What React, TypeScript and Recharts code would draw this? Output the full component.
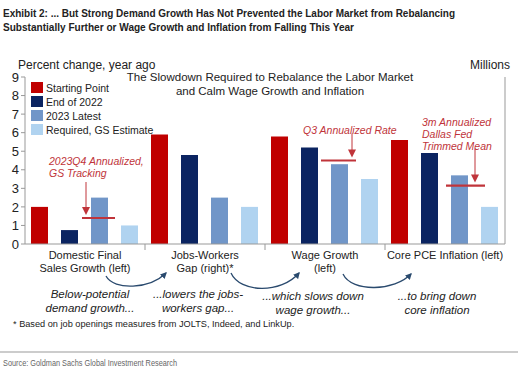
import React from 'react';
import { BarChart, Bar, XAxis, YAxis } from 'recharts';

// chart values
const categories = [
  ['Domestic Final', 'Sales Growth (left)'],
  ['Jobs-Workers', 'Gap (right)*'],
  ['Wage Growth', '(left)'],
  ['Core PCE Inflation (left)'],
];
const startingPoint = [2.0, 5.9, 5.8, 5.6];
const endOf2022 = [0.75, 4.8, 5.2, 4.9];
const latest2023 = [2.5, 2.5, 4.3, 3.7];
const requiredGs = [1.0, 2.0, 3.5, 2.0];
const markers = [1.4, null, 4.5, 3.15];
const markerNotes = [
  ['2023Q4 Annualized,', 'GS Tracking'],
  null,
  ['Q3 Annualized Rate'],
  ['3m Annualized', 'Dallas Fed', 'Trimmed Mean'],
];
const yTicks = [0, 1, 2, 3, 4, 5, 6, 7, 8, 9];

const SERIES = [
  { key: 'start', name: 'Starting Point', color: '#C00000' },
  { key: 'end22', name: 'End of 2022', color: '#0B2461' },
  { key: 'latest', name: '2023 Latest', color: '#7196C8' },
  { key: 'required', name: 'Required, GS Estimate', color: '#B0D3F0' },
];

// where each red note sits relative to its bar / marker
const NOTE_LAYOUT = [
  { tx: -42, ty: -53, ax: -5, aTop: -36, l: -9, r: 7 },
  null,
  { tx: -28, ty: -27, ax: 21, aTop: -27, l: -10, r: 8 },
  { tx: -29, ty: -60, ax: 24, aTop: -37, l: -5, r: 17 },
];

const data = categories.map((c, i) => ({
  name: c.join(' '),
  lines: c,
  start: startingPoint[i],
  end22: endOf2022[i],
  latest: latest2023[i],
  required: requiredGs[i],
  marker: markers[i],
  note: markerNotes[i],
  idx: i,
}));

const RED = '#C0343A';
const FONT = '"Liberation Sans", Arial, sans-serif';

const LatestShape = (props: any) => {
  const { x, y, width, height, fill, payload } = props;
  const base = y + height;
  const out: any[] = [<rect key="b" x={x} y={y} width={width} height={height} fill={fill} />];
  if (payload.marker != null && payload.latest) {
    const my = base - (base - y) * (payload.marker / payload.latest);
    const lay = NOTE_LAYOUT[payload.idx];
    out.push(
      <line key="m" x1={x + lay.l} x2={x + width + lay.r} y1={my} y2={my} stroke={RED} strokeWidth={2.2} />
    );
    out.push(
      <line key="a" x1={x + lay.ax} x2={x + lay.ax} y1={my + lay.aTop} y2={my - 9} stroke={RED} strokeWidth={1} />
    );
    out.push(
      <path key="h" d={`M${x + lay.ax - 4},${my - 11} L${x + lay.ax + 4},${my - 11} L${x + lay.ax},${my - 3} Z`} fill={RED} />
    );
    (payload.note || []).forEach((t: string, k: number) => {
      out.push(
        <text key={'t' + k} x={x + lay.tx} y={my + lay.ty + k * 12} fill={RED} fontSize={10.5} fontStyle="italic" fontFamily={FONT}>
          {t}
        </text>
      );
    });
  }
  return <g>{out}</g>;
};

const CategoryTick = (props: any) => {
  const { x, y, payload, index } = props;
  const half = payload.offset ?? 60;
  const row = data[index];
  return (
    <g>
      {index > 0 && <line x1={x - half} x2={x - half} y1={y} y2={y + 6} stroke="#999" />}
      {row.lines.map((t: string, k: number) => (
        <text key={k} x={x} y={y + 15 + k * 13} textAnchor="middle" fontSize={11} fill="#222" fontFamily={FONT}>
          {t}
        </text>
      ))}
    </g>
  );
};

const arrowPaths = [
  'M106,276 C114,291 150,289 166,273',
  'M231,273 C240,293 281,294 299,273',
  'M343,274 C352,293 395,291 411,274',
];
const flowNotes = [
  { x: 90, y: 298, lines: ['Below-potential', 'demand growth...'] },
  { x: 198, y: 298, lines: ['...lowers the jobs-', 'workers gap...'] },
  { x: 313, y: 300, lines: ['...which slows down', 'wage growth...'] },
  { x: 437, y: 300, lines: ['...to bring down', 'core inflation'] },
];
const NARROW = '"Liberation Sans", Arial, sans-serif';

export default function App() {
  return (
    <div style={{ position: 'fixed', left: 0, top: 0, width: 530, height: 376, background: '#fff', fontFamily: FONT, overflow: 'hidden' }}>
      <div style={{ position: 'absolute', left: 0, top: 0 }}>
        <BarChart
          width={530}
          height={376}
          data={data}
          margin={{ top: 77, right: 0, bottom: 92, left: 0 }}
          barCategoryGap={6}
          barGap={13}
        >
          <XAxis
            dataKey="name"
            height={40}
            axisLine={{ stroke: '#999' }}
            tickLine={false}
            tickSize={0}
            tickMargin={0}
            interval={0}
            tick={<CategoryTick />}
          />
          <YAxis
            yAxisId="left"
            width={25}
            domain={[0, 9]}
            ticks={yTicks}
            interval={0}
            axisLine={{ stroke: '#999' }}
            tickLine={{ stroke: '#999' }}
            tickSize={4}
            tick={{ fontSize: 13, fill: '#222', fontFamily: FONT }}
          />
          <YAxis
            yAxisId="right"
            orientation="right"
            width={25}
            domain={[0, 9]}
            ticks={yTicks}
            interval={0}
            axisLine={{ stroke: '#999' }}
            tickLine={{ stroke: '#999' }}
            tickSize={4}
            tick={{ fontSize: 13, fill: '#222', fontFamily: FONT }}
          />
          {SERIES.map((s) => (
            <Bar
              key={s.key}
              dataKey={s.key}
              name={s.name}
              yAxisId="left"
              fill={s.color}
              isAnimationActive={false}
              shape={s.key === 'latest' ? <LatestShape /> : undefined}
            />
          ))}
        </BarChart>
      </div>
      <svg width={530} height={376} style={{ position: 'absolute', left: 0, top: 0, pointerEvents: 'none' }}>
        <defs>
          <marker id="ah" viewBox="0 0 10 10" refX="8" refY="5" markerWidth="5" markerHeight="5" orient="auto">
            <path d="M0,0 L10,5 L0,10 Z" fill="#2A4A6E" />
          </marker>
        </defs>
        <text x={3} y={17} fontSize={11.5} fontWeight={700} fill="#222" fontFamily={NARROW} textLength={452} lengthAdjust="spacingAndGlyphs">
          Exhibit 2: ... But Strong Demand Growth Has Not Prevented the Labor Market from Rebalancing
        </text>
        <text x={3} y={31} fontSize={11.5} fontWeight={700} fill="#222" fontFamily={NARROW} textLength={351} lengthAdjust="spacingAndGlyphs">
          Substantially Further or Wage Growth and Inflation from Falling This Year
        </text>
        <text x={18} y={69} fontSize={12} fill="#222" fontFamily={FONT}>Percent change, year ago</text>
        <text x={510} y={69} fontSize={12} fill="#222" fontFamily={FONT} textAnchor="end">Millions</text>
        <text x={270} y={81} fontSize={11.5} fill="#222" fontFamily={FONT} textAnchor="middle">
          The Slowdown Required to Rebalance the Labor Market
        </text>
        <text x={270} y={95} fontSize={11.5} fill="#222" fontFamily={FONT} textAnchor="middle">
          and Calm Wage Growth and Inflation
        </text>
        {SERIES.map((s, i) => (
          <g key={s.key}>
            <rect x={31} y={82 + i * 14} width={12} height={11} fill={s.color} />
            <text x={46} y={91.5 + i * 14} fontSize={10.5} fill="#222" fontFamily={FONT}>{s.name}</text>
          </g>
        ))}
        {arrowPaths.map((d, i) => (
          <path key={i} d={d} fill="none" stroke="#2A4A6E" strokeWidth={1.3} markerEnd="url(#ah)" />
        ))}
        {flowNotes.map((n, i) =>
          n.lines.map((t, k) => (
            <text key={i + '-' + k} x={n.x} y={n.y + k * 14} textAnchor="middle" fontSize={11.5} fontStyle="italic" fill="#222" fontFamily={FONT}>
              {t}
            </text>
          ))
        )}
        <text x={13} y={327} fontSize={9.2} fill="#222" fontFamily={FONT}>
          * Based on job openings measures from JOLTS, Indeed, and LinkUp.
        </text>
        <line x1={0} x2={518} y1={352} y2={352} stroke="#999" />
        <text x={3} y={366} fontSize={9} fill="#666" fontFamily={NARROW} textLength={174} lengthAdjust="spacingAndGlyphs">
          Source: Goldman Sachs Global Investment Research
        </text>
      </svg>
    </div>
  );
}
